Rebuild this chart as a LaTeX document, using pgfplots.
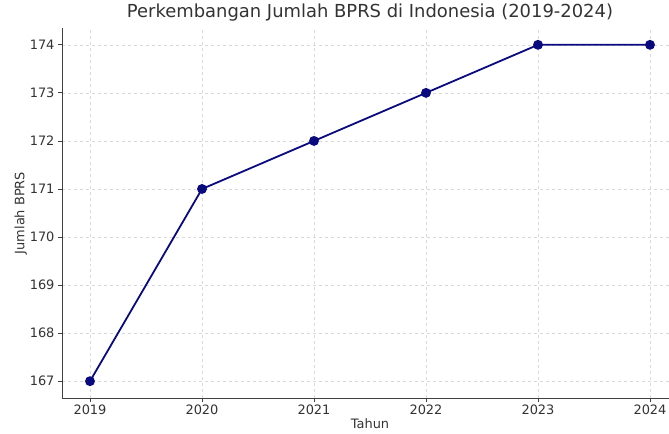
\documentclass[border=0pt]{standalone}
\usepackage{pgfplots}
\pgfplotsset{compat=1.18}
\usepackage{fontspec}
\setmainfont{DejaVu Sans}
\definecolor{txt}{HTML}{333333}
\definecolor{ln}{HTML}{0A0A80}
\begin{document}
\begin{tikzpicture}
\begin{axis}[
  scale only axis,
  width=616bp, height=370bp,
  xmin=2018.75, xmax=2024.25,
  ymin=166.65, ymax=174.35,
  axis x line*=bottom, axis y line*=left,
  axis line style={black!75, line width=1bp},
  xtick={2019,2020,2021,2022,2023,2024},
  ytick={167,168,169,170,171,172,173,174},
  xticklabel style={/pgf/number format/1000 sep=, yshift=1bp},
  /pgf/number format/assume math mode=true,
  tick align=outside,
  major tick length=4bp,
  tick style={black!75, line width=0.8bp},
  ticklabel style={font=\fontsize{13}{15}\selectfont, text=txt},
  grid=major,
  grid style={dashed, black!15, line width=0.6bp},
  title={Perkembangan Jumlah BPRS di Indonesia (2019-2024)},
  title style={font=\fontsize{18}{20}\selectfont, text=txt, at={(0.5,1)}, anchor=base, yshift=5bp},
  xlabel={Tahun},
  ylabel={Jumlah BPRS},
  label style={font=\fontsize{13}{15}\selectfont, text=txt},
  xlabel style={yshift=2bp},
  ylabel style={yshift=-4bp},
  clip=false,
]
\addplot[color=ln, line width=1.8bp, mark=*, mark size=4bp, mark options={fill=ln, draw=ln}]
  coordinates {(2019,167) (2020,171) (2021,172) (2022,173) (2023,174) (2024,174)};
\end{axis}
\pgfresetboundingbox
\useasboundingbox (-62bp,-36bp) rectangle (607bp,398bp);
\end{tikzpicture}
\end{document}
